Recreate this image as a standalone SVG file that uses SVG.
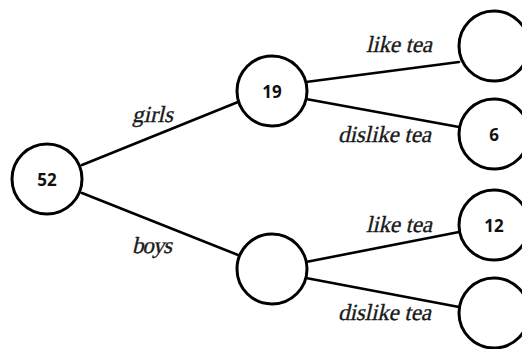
<svg xmlns="http://www.w3.org/2000/svg" width="522" height="349" viewBox="0 0 522 349">
  <style>
    .node circle { fill: #ffffff; stroke: #000000; stroke-width: 3; }
    .node text { font-family: "Open Sans", "Liberation Sans", sans-serif; font-weight: bold; font-size: 17px; fill: #111111; text-anchor: middle; dominant-baseline: central; }
    .edges line { stroke: #000000; stroke-width: 2.6; stroke-linecap: round; }
    /* branch labels: upright serif slanted by hand */
    .lbl { font-family: "Liberation Serif", "DejaVu Serif", serif; font-size: 23px; fill: #1a1a1a; stroke: #1a1a1a; stroke-width: 0.35; }
  </style>
  <rect width="522" height="349" fill="#ffffff"/>
  <g class="edges" id="connectors">
    <line x1="82" y1="165" x2="238" y2="102"/>
    <line x1="82" y1="193" x2="238" y2="255"/>
    <line x1="306" y1="82" x2="459" y2="62"/>
    <line x1="306" y1="99" x2="459" y2="127"/>
    <line x1="306" y1="262" x2="459" y2="232"/>
    <line x1="306" y1="278" x2="459" y2="307"/>
  </g>
  <g id="labels">
    <text class="lbl" transform="translate(132,122) skewX(-13)" textLength="41">girls</text>
    <text class="lbl" transform="translate(132,253) skewX(-13)" textLength="40">boys</text>
    <text class="lbl" transform="translate(366,52) skewX(-13)" textLength="66">like tea</text>
    <text class="lbl" transform="translate(338,142) skewX(-13)" textLength="93">dislike tea</text>
    <text class="lbl" transform="translate(366,232) skewX(-13)" textLength="66">like tea</text>
    <text class="lbl" transform="translate(338,320) skewX(-13)" textLength="93">dislike tea</text>
  </g>
  <g class="node" id="n-total"><circle cx="47" cy="179" r="35"/><text x="47" y="179">52</text></g>
  <g class="node" id="n-girls"><circle cx="272" cy="91" r="35"/><text x="272" y="91">19</text></g>
  <g class="node" id="n-boys"><circle cx="272" cy="269" r="35"/></g>
  <g class="node" id="n-girls-like"><circle cx="494" cy="46" r="35"/></g>
  <g class="node" id="n-girls-dislike"><circle cx="494" cy="134" r="35"/><text x="494" y="134">6</text></g>
  <g class="node" id="n-boys-like"><circle cx="494" cy="225" r="35"/><text x="494" y="225">12</text></g>
  <g class="node" id="n-boys-dislike"><circle cx="494" cy="313" r="35"/></g>
</svg>
